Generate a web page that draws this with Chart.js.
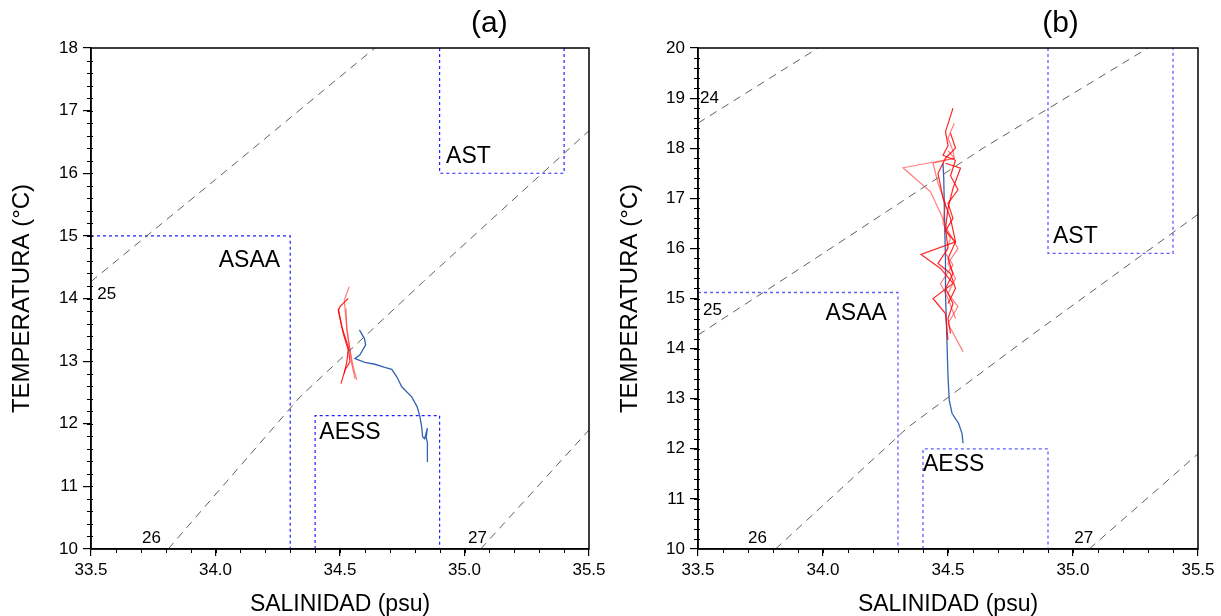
<!DOCTYPE html>
<html>
<head>
<meta charset="utf-8">
<script src="https://cdn.jsdelivr.net/npm/chart.js@4.4.1/dist/chart.umd.min.js"></script>
<style>
  body { margin: 0; background: #fff; }
  canvas { position: absolute; top: 0; }
  #chartA { left: 0; }
  #chartB { left: 605px; }
</style>
</head>
<body>
<canvas id="chartA" width="612" height="616"></canvas>
<canvas id="chartB" width="616" height="616"></canvas>
<script>
// ---- tick labels ----
const salTicks = [33.5, 34.0, 34.5, 35.0, 35.5];
const tempTicksA = [10, 11, 12, 13, 14, 15, 16, 17, 18];
const tempTicksB = [10, 11, 12, 13, 14, 15, 16, 17, 18, 19, 20];

// ---- isopycnals (S, T) ----
const sigma24 = [[33.5, 18.5], [33.98, 20.0]];
const sigma25 = [[33.5, 14.27], [34.0, 15.9], [34.64, 18.0], [35.3, 20.0]];
const sigma26 = [[33.81, 10.0], [34.34, 12.43], [34.835, 14.27], [35.5, 16.68]];
const sigma27 = [[35.065, 10.0], [35.5, 11.9]];

// ---- water mass boxes (a) ----
const asaaA = [[33.5, 15.0], [34.3, 15.0], [34.3, 10.0]];
const astA = [[34.9, 18.0], [34.9, 16.0], [35.4, 16.0], [35.4, 18.0]];
const aessA = [[34.4, 10.0], [34.4, 12.13], [34.9, 12.13], [34.9, 10.0]];

// ---- water mass boxes (b) ----
const asaaB = [[33.5, 15.12], [34.3, 15.12], [34.3, 10.0]];
const astB = [[34.9, 20.0], [34.9, 15.9], [35.4, 15.9], [35.4, 20.0]];
const aessB = [[34.4, 10.0], [34.4, 12.0], [34.9, 12.0], [34.9, 10.0]];

// ---- profiles (a) ----
const blueA = [[34.578, 13.50], [34.598, 13.36], [34.603, 13.26], [34.58, 13.10], [34.56, 13.04],
  [34.60, 12.98], [34.64, 12.95], [34.68, 12.90], [34.708, 12.87], [34.728, 12.75], [34.748, 12.59],
  [34.788, 12.43], [34.81, 12.27], [34.821, 12.11], [34.828, 11.95], [34.832, 11.79], [34.84, 11.76],
  [34.851, 11.93], [34.846, 11.78], [34.851, 11.70], [34.851, 11.39]];
const redA1 = [[34.537, 14.19], [34.517, 13.97], [34.527, 13.55], [34.54, 13.18], [34.547, 12.96], [34.56, 12.72]];
const redA2 = [[34.533, 14.0], [34.5, 13.87], [34.493, 13.81], [34.507, 13.55], [34.533, 13.23], [34.54, 12.99], [34.52, 12.86], [34.504, 12.64]];
const redA3 = [[34.524, 13.84], [34.527, 13.50], [34.54, 13.18], [34.553, 12.91], [34.567, 12.70]];
const redA4 = [[34.493, 13.84], [34.513, 13.44], [34.533, 13.18], [34.527, 12.98], [34.517, 12.80]];

// ---- profiles (b) ----
const blueB = [[34.48, 17.70], [34.483, 17.40], [34.487, 16.40], [34.49, 15.77], [34.49, 15.10],
  [34.496, 14.11], [34.50, 13.44], [34.505, 12.97], [34.516, 12.71], [34.542, 12.51], [34.556, 12.31], [34.56, 12.11]];
const redB1 = [[34.52, 18.80], [34.49, 18.33], [34.50, 18.05], [34.48, 17.86], [34.53, 17.76], [34.51, 17.45],
  [34.54, 17.17], [34.50, 16.90], [34.52, 16.60], [34.49, 16.35], [34.53, 16.13], [34.50, 15.80], [34.52, 15.50],
  [34.49, 15.20], [34.52, 14.90], [34.50, 14.60], [34.51, 14.30]];
const redB2 = [[34.525, 18.50], [34.50, 18.20], [34.52, 17.95], [34.525, 17.80], [34.32, 17.61], [34.43, 17.13],
  [34.47, 16.70], [34.50, 16.35], [34.54, 16.00], [34.50, 15.70], [34.53, 15.40], [34.50, 15.10], [34.54, 14.84],
  [34.50, 14.50], [34.56, 13.94]];
const redB3 = [[34.51, 18.30], [34.53, 18.00], [34.49, 17.80], [34.46, 17.50], [34.48, 17.00], [34.51, 16.60],
  [34.53, 16.13], [34.392, 15.88], [34.47, 15.60], [34.52, 15.30], [34.44, 15.00], [34.49, 14.70], [34.50, 14.17]];
const redB4 = [[34.50, 17.95], [34.525, 17.80], [34.44, 17.70], [34.46, 17.30], [34.49, 16.90], [34.48, 16.50],
  [34.51, 16.20], [34.49, 15.90], [34.52, 15.67], [34.47, 15.30], [34.50, 15.00], [34.53, 14.60]];
const redB5 = [[34.49, 17.70], [34.55, 17.60], [34.52, 17.20], [34.50, 16.80], [34.49, 16.40], [34.50, 16.00],
  [34.46, 15.70], [34.51, 15.50], [34.53, 15.20], [34.50, 14.90]];

// ---- text annotations (text, S, T, size) ----
const notesA = [
  ['25', 33.525, 14.06, 17], ['26', 33.705, 10.17, 17], ['27', 35.014, 10.17, 17],
  ['ASAA', 34.013, 14.60, 23], ['AST', 34.926, 16.26, 23], ['AESS', 34.417, 11.85, 23]
];
const notesB = [
  ['24', 33.508, 19.0, 17], ['25', 33.52, 14.77, 17], ['26', 33.70, 10.22, 17], ['27', 35.005, 10.22, 17],
  ['ASAA', 34.01, 14.69, 23], ['AST', 34.92, 16.23, 23], ['AESS', 34.40, 11.68, 23]
];

const FONT = '"Liberation Sans", Arial, sans-serif';
const pts = arr => arr.map(p => ({ x: p[0], y: p[1] }));

function line(data, color, width, dash) {
  return {
    data: pts(data), showLine: true, borderColor: color, borderWidth: width,
    borderDash: dash || [], pointRadius: 0, fill: false, tension: 0
  };
}

// frame, minor ticks, text
const extras = {
  id: 'extras',
  afterDraw(chart, args, opts) {
    const { ctx, chartArea: a, scales: { x, y } } = chart;
    ctx.save();
    ctx.strokeStyle = '#000';
    ctx.lineWidth = 1;
    ctx.beginPath();
    for (let v = 33.6; v < 35.45; v += 0.1) {
      const px = Math.round(x.getPixelForValue(v)) + 0.5;
      ctx.moveTo(px, a.bottom); ctx.lineTo(px, a.bottom + 4);
    }
    for (let v = y.min + 0.2; v < y.max - 0.1; v += 0.2) {
      const py = Math.round(y.getPixelForValue(v)) + 0.5;
      ctx.moveTo(a.left - 4, py); ctx.lineTo(a.left + 2, py);
    }
    ctx.stroke();
    ctx.lineWidth = 1.5;
    ctx.strokeRect(a.left, a.top, a.right - a.left, a.bottom - a.top);

    ctx.fillStyle = '#000';
    ctx.textAlign = 'left';
    ctx.textBaseline = 'middle';
    opts.notes.forEach(n => {
      ctx.font = n[3] + 'px ' + FONT;
      ctx.fillText(n[0], x.getPixelForValue(n[1]), y.getPixelForValue(n[2]));
    });
    ctx.font = '30px ' + FONT;
    ctx.textAlign = 'center';
    ctx.fillText(opts.title, x.getPixelForValue(opts.titleS), 24);
    ctx.restore();
  }
};

function makeChart(id, tempTicks, datasets, notes, title, titleS, yWidth, yTitlePad, rightPad) {
  return new Chart(document.getElementById(id), {
    type: 'scatter',
    data: { datasets: datasets },
    options: {
      responsive: false,
      animation: false,
      layout: { padding: { top: 48, right: rightPad, left: 0, bottom: 0 } },
      plugins: {
        legend: { display: false },
        tooltip: { enabled: false },
        extras: { notes: notes, title: title, titleS: titleS }
      },
      scales: {
        x: {
          type: 'linear', min: 33.5, max: 35.5,
          afterBuildTicks: s => { s.ticks = salTicks.map(v => ({ value: v })); },
          afterFit: s => { s.height = 67; s.paddingLeft = 0; s.paddingRight = 0; },
          ticks: { callback: v => v.toFixed(1), color: '#000', font: { size: 17, family: FONT }, padding: 4, maxRotation: 0 },
          grid: { drawOnChartArea: false, drawTicks: true, tickLength: 7, color: '#000', lineWidth: 1.2 },
          border: { display: true, color: '#000', width: 1.5 },
          title: { display: true, text: 'SALINIDAD (psu)', color: '#000', font: { size: 23, family: FONT, lineHeight: 1 }, padding: 0 }
        },
        y: {
          type: 'linear', min: tempTicks[0], max: tempTicks[tempTicks.length - 1],
          afterBuildTicks: s => { s.ticks = tempTicks.map(v => ({ value: v })); },
          afterFit: s => { s.width = yWidth; s.paddingTop = 0; s.paddingBottom = 0; },
          ticks: { color: '#000', font: { size: 17, family: FONT }, padding: 5 },
          grid: { drawOnChartArea: false, drawTicks: true, tickLength: 8, color: '#000', lineWidth: 1.2 },
          border: { display: true, color: '#000', width: 1.5 },
          title: { display: true, text: 'TEMPERATURA (°C)', color: '#000', font: { size: 24, family: FONT, lineHeight: 1 }, padding: { top: yTitlePad, bottom: 0 } }
        }
      }
    },
    plugins: [extras]
  });
}

const iso = '#606060', isoDash = [8, 6];
const boxA = '#2020ff', boxB = '#5c5cff', boxDash = [3, 3];
const red = 'rgba(255,0,0,0.85)', redLight = 'rgba(255,40,40,0.6)', blue = '#3563b3';

makeChart('chartA', tempTicksA, [
  line(sigma25, iso, 1, isoDash), line(sigma26, iso, 1, isoDash), line(sigma27, iso, 1, isoDash),
  line(asaaA, boxA, 1.2, boxDash), line(astA, boxA, 1.2, boxDash), line(aessA, boxA, 1.2, boxDash),
  line(blueA, blue, 1.3),
  line(redA1, redLight, 1.2), line(redA2, red, 1.2), line(redA3, redLight, 1.2), line(redA4, red, 1.2)
], notesA, '(a)', 35.1, 91, 10, 23);

makeChart('chartB', tempTicksB, [
  line(sigma24, iso, 1, isoDash), line(sigma25, iso, 1, isoDash), line(sigma26, iso, 1, isoDash), line(sigma27, iso, 1, isoDash),
  line(asaaB, boxB, 1.3, boxDash), line(astB, boxB, 1.3, boxDash), line(aessB, boxB, 1.3, boxDash),
  line(redB1, red, 1.2), line(redB2, redLight, 1.2), line(redB3, red, 1.2), line(redB4, redLight, 1.2), line(redB5, red, 1.2),
  line(blueB, blue, 1.3)
], notesB, '(b)', 34.95, 93, 13, 23);
</script>
</body>
</html>
